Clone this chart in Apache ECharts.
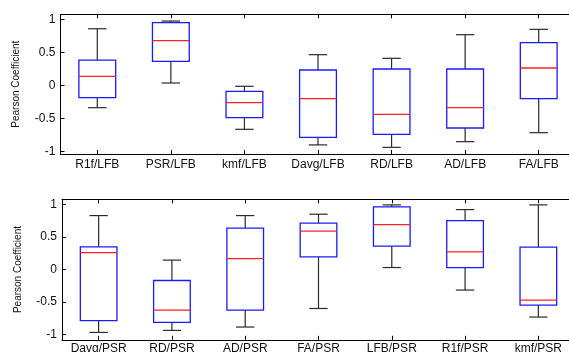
<!DOCTYPE html>
<html>
<head>
<meta charset="utf-8">
<script src="https://cdn.jsdelivr.net/npm/echarts@6/dist/echarts.min.js"></script>
<style>
html,body{margin:0;padding:0;background:#fff;}
#chart{width:569px;height:352px;}
</style>
</head>
<body>
<div id="chart"></div>
<script>
// ---- Data ----
var topCats = ['R1f/LFB','PSR/LFB','kmf/LFB','Davg/LFB','RD/LFB','AD/LFB','FA/LFB'];
var topLow  = [-0.336, 0.038, -0.664, -0.900, -0.937, -0.851, -0.715];
var topQ1   = [-0.185, 0.366, -0.487, -0.785, -0.740, -0.644, -0.200];
var topMed  = [ 0.139, 0.679, -0.260, -0.200, -0.437, -0.336,  0.265];
var topQ3   = [ 0.386, 0.952, -0.088,  0.235,  0.250,  0.250,  0.649];
var topHigh = [ 0.860, 0.977, -0.012,  0.467,  0.412,  0.770,  0.851];

var botCats = ['Davg/PSR','RD/PSR','AD/PSR','FA/PSR','LFB/PSR','R1f/PSR','kmf/PSR'];
var botLow  = [-0.965, -0.934, -0.882, -0.597, 0.032, -0.314, -0.729];
var botQ1   = [-0.785, -0.811, -0.621,  0.196, 0.360,  0.032, -0.544];
var botMed  = [ 0.262, -0.621,  0.170,  0.590, 0.692,  0.273, -0.468];
var botQ3   = [ 0.350, -0.167,  0.636,  0.713, 0.963,  0.753,  0.345];
var botHigh = [ 0.830,  0.146,  0.830,  0.851, 0.994,  0.922,  0.994];

var yTicks = [-1, -0.5, 0, 0.5, 1];
var yName = 'Pearson Coefficient';

function rows(low,q1,med,q3,high){
  return low.map(function(v,i){ return [i, v, q1[i], med[i], q3[i], high[i]]; });
}

function renderBox(params, api){
  var i = api.value(0);
  var lo = api.coord([i, api.value(1)]);
  var q1 = api.coord([i, api.value(2)]);
  var md = api.coord([i, api.value(3)]);
  var q3 = api.coord([i, api.value(4)]);
  var hi = api.coord([i, api.value(5)]);
  var bw = api.size([1, 0])[0] * 0.5;
  var cw = bw * 0.5;
  var x = md[0];
  var wStyle = {stroke:'#2a2a2a', lineWidth:1.2, fill:null};
  return {
    type:'group',
    children:[
      {type:'line', shape:{x1:x,y1:q3[1],x2:x,y2:hi[1]}, style:wStyle},
      {type:'line', shape:{x1:x,y1:q1[1],x2:x,y2:lo[1]}, style:wStyle},
      {type:'line', shape:{x1:x-cw/2,y1:hi[1],x2:x+cw/2,y2:hi[1]}, style:wStyle},
      {type:'line', shape:{x1:x-cw/2,y1:lo[1],x2:x+cw/2,y2:lo[1]}, style:wStyle},
      {type:'rect', shape:{x:x-bw/2,y:q3[1],width:bw,height:q1[1]-q3[1]}, style:{stroke:'#1a1aff',lineWidth:1.3,fill:null}},
      {type:'line', shape:{x1:x-bw/2,y1:md[1],x2:x+bw/2,y2:md[1]}, style:{stroke:'#ff2020',lineWidth:1.3}}
    ]
  };
}

var font = 'Liberation Sans, Arial, sans-serif';
function xAxisDef(gi, cats, pos, margin){
  return {
    gridIndex: gi, type:'category', data: cats, position: pos,
    boundaryGap: true,
    axisLine:{show:true, onZero:false, lineStyle:{color:'#000', width:1}},
    axisTick:{show:true, inside:true, alignWithLabel:true, length:4, lineStyle:{color:'#000'}},
    axisLabel:{show: pos==='bottom', interval:0, hideOverlap:false, color:'#111', fontSize:12, fontFamily:font, margin:margin || 6},
    splitLine:{show:false}
  };
}
function yAxisDef(gi, mn, mx){
  return {
    gridIndex: gi, type:'value', min: mn, max: mx,
    name: yName, nameLocation:'middle', nameRotate:90, nameGap:39,
    nameTextStyle:{color:'#111', fontSize:10, fontFamily:font},
    axisLine:{show:true, onZero:false, lineStyle:{color:'#000', width:1}},
    axisTick:{show:true, inside:true, length:4, customValues: yTicks, lineStyle:{color:'#000'}},
    axisLabel:{color:'#111', fontSize:12, fontFamily:font, margin:5, customValues: yTicks,
      formatter:function(v){ return String(v); }},
    splitLine:{show:false}
  };
}

var chart = echarts.init(document.getElementById('chart'), null, {renderer:'canvas'});
chart.setOption({
  animation:false,
  backgroundColor:'#fff',
  grid:[
    {left:60.5, top:14.3, width:515, height:139.7, containLabel:false, outerBoundsMode:'none'},
    {left:62, top:199.3, width:513, height:140.5, containLabel:false, outerBoundsMode:'none'}
  ],
  xAxis:[
    xAxisDef(0, topCats, 'bottom', 5),
    xAxisDef(0, topCats, 'top'),
    xAxisDef(1, botCats, 'bottom', 3),
    xAxisDef(1, botCats, 'top')
  ],
  yAxis:[
    yAxisDef(0, -1.038, 1.079),
    yAxisDef(1, -1.078, 1.08)
  ],
  series:[
    {type:'custom', xAxisIndex:0, yAxisIndex:0, renderItem:renderBox,
     data: rows(topLow, topQ1, topMed, topQ3, topHigh), encode:{x:0, y:[1,2,3,4,5]}},
    {type:'custom', xAxisIndex:2, yAxisIndex:1, renderItem:renderBox,
     data: rows(botLow, botQ1, botMed, botQ3, botHigh), encode:{x:0, y:[1,2,3,4,5]}}
  ]
});
</script>
</body>
</html>
